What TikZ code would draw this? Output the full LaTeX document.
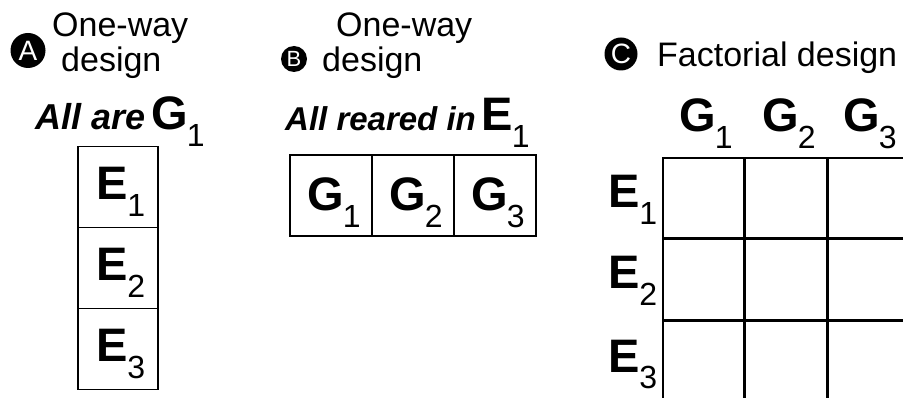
\documentclass[tikz,border=0pt]{standalone}
\usepackage{fontspec}
\setmainfont{Liberation Sans}
\newcommand\biglab[2]{{\upshape\fontsize{47}{47}\selectfont\bfseries #1}\kern-1pt\raisebox{-17pt}{\upshape\mdseries\fontsize{32}{32}\selectfont #2}}
\begin{document}
\begin{tikzpicture}[x=1pt,y=-1pt,
  cell/.style={draw,line width=1.6pt,minimum width=80pt,minimum height=81pt,inner sep=0pt,outer sep=0pt},
  bcell/.style={draw,line width=1.6pt,minimum width=82pt,minimum height=81pt,inner sep=0pt,outer sep=0pt},
  badge/.style={circle,fill=black,text=white,inner sep=0pt,font=\fontsize{28}{28}\selectfont},
  txt/.style={anchor=base west,inner sep=0pt,font=\fontsize{34}{34}\selectfont},
  bi/.style={anchor=base west,inner sep=0pt,font=\fontsize{33}{33}\selectfont\bfseries\itshape},
  lab/.style={anchor=base,inner sep=0pt},
  thin/.style={line width=1.6pt},
  thick/.style={line width=3pt}]
\useasboundingbox (0,0) rectangle (903,398);
% ---- A ----
\node[badge,minimum size=35pt] (ca) at (28,50.5) {A};
\node[txt] (a1t) at (52,37) {One-way};
\node[txt] (a2t) at (61,72) {design};
\node[bi,font=\fontsize{36}{36}\selectfont\bfseries\itshape] (aall) at (35,130) {All are\,\biglab{G}{1}};
\node[cell] (a1) at (118,187) {};
\node[cell,anchor=north] (a2) at (a1.south) {};
\node[cell,anchor=north] (a3) at (a2.south) {};
\node[lab] (ae1) at ([xshift=3pt,yshift=-13pt]a1.center) {\biglab{E}{1}};
\node[lab] (ae2) at ([xshift=3pt,yshift=-13pt]a2.center) {\biglab{E}{2}};
\node[lab] (ae3) at ([xshift=3pt,yshift=-13pt]a3.center) {\biglab{E}{3}};
% ---- B ----
\node[badge,minimum size=26pt,font=\fontsize{22}{22}\selectfont] (cb) at (294,59) {B};
\node[txt] (b1t) at (336,37) {One-way};
\node[txt] (b2t) at (322,72) {design};
\node[bi] (ball) at (285,131) {All reared in\,\biglab{E}{1}};
\node[bcell] (b1) at (331,195.5) {};
\node[bcell,anchor=west] (b2) at (b1.east) {};
\node[bcell,anchor=west] (b3) at (b2.east) {};
\node[lab] (bg1) at ([xshift=3pt,yshift=-15pt]b1.center) {\biglab{G}{1}};
\node[lab] (bg2) at ([xshift=3pt,yshift=-15pt]b2.center) {\biglab{G}{2}};
\node[lab] (bg3) at ([xshift=3pt,yshift=-15pt]b3.center) {\biglab{G}{3}};
% ---- C ----
\node[badge,minimum size=33pt] (cc) at (621,54) {C};
\node[txt] (ct) at (657,67) {Factorial design};
\coordinate (g00) at (663,158);
\coordinate (g10) at (744,158);
\coordinate (g20) at (827,158);
\coordinate (g30) at (910,158);
\coordinate (g01) at (663,239);
\coordinate (g02) at (663,321);
\coordinate (g03) at (663,405);
\coordinate (g31) at (910,239);
\coordinate (g32) at (910,321);
\coordinate (g13) at (744,405);
\coordinate (g23) at (827,405);
\draw[thin] (g03) -- (g00) -- (g30);
\draw[thick] (g01) -- (g31);
\draw[thick] (g02) -- (g32);
\draw[thick] (g10) -- (g13);
\draw[thick] (g20) -- (g23);
\node[lab] (cg1) at (706,132) {\biglab{G}{1}};
\node[lab] (cg2) at (789,132) {\biglab{G}{2}};
\node[lab] (cg3) at (870,132) {\biglab{G}{3}};
\node[lab] (ce1) at (633,208) {\biglab{E}{1}};
\node[lab] (ce2) at (633,289) {\biglab{E}{2}};
\node[lab] (ce3) at (633,372) {\biglab{E}{3}};
\end{tikzpicture}
\end{document}
